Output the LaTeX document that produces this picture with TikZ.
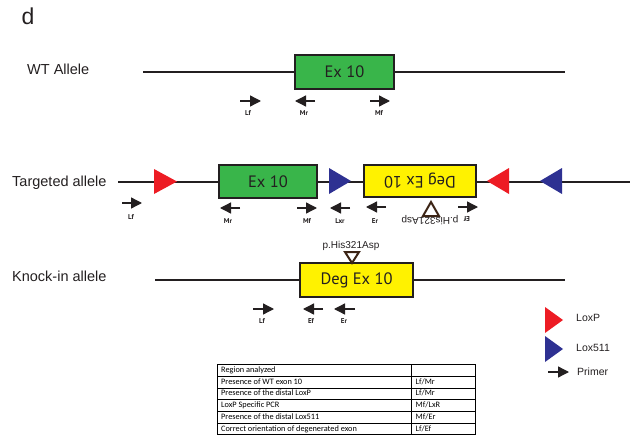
\documentclass[tikz,border=0pt]{standalone}
\usepackage{fontspec}
\setmainfont{Liberation Sans}
\newfontfamily\exonfont{PT Sans}
\newfontfamily\tablafont{Carlito}
\usetikzlibrary{arrows.meta}

\definecolor{exverde}{RGB}{57,181,74}
\definecolor{examarillo}{RGB}{255,242,0}
\definecolor{loxrojo}{RGB}{237,28,36}
\definecolor{loxazul}{RGB}{46,49,146}
\definecolor{trazo}{RGB}{35,31,32}
\definecolor{marron}{RGB}{60,36,21}

\begin{document}
\begin{tikzpicture}[
    x=1pt, y=-1pt,
    alelo/.style={anchor=west, inner sep=0pt, text=trazo, font=\fontsize{14.5}{16}\selectfont},
    linea/.style={line width=2.4pt, draw=trazo},
    exon/.style={draw=trazo, line width=2.4pt, inner sep=0pt, text=trazo, font=\exonfont\fontsize{16.5}{18}\selectfont},
    cebador/.style={line width=1.3pt, draw=trazo, -{Triangle[length=11pt, width=11pt]}},
    etiq/.style={inner sep=0pt, text=trazo, font=\exonfont\bfseries\fontsize{7}{8}\selectfont},
    mutacion/.style={line width=2pt, draw=marron, line join=miter},
    leyenda/.style={anchor=west, inner sep=0pt, text=trazo, font=\fontsize{10.5}{12}\selectfont}
]

% ========================================================
% CUADRÍCULA DE AYUDA (en píxeles de la figura)
% ========================================================
% \draw[help lines, step=50, lightgray] (0,0) grid (635,436);
% ========================================================

\useasboundingbox (0,0) rectangle (635,436);

% 0. Letra del panel
\node[text=trazo, font=\fontsize{23}{26}\selectfont] (panel) at (28,16) {d};

% 1. Alelo WT
\node[alelo] (wtTexto) at (27,69) {WT Allele};
\coordinate (wtIni) at (143,72);
\coordinate (wtFin) at (565,72);
\draw[linea] (wtIni) -- (wtFin);
\node[exon, fill=exverde, minimum width=99, minimum height=34] (wtEx) at (344.5,72) {Ex 10};

% Cebadores del alelo WT
\draw[cebador] (240,101) -- (261,101);
\node[etiq] (wtLf) at (248,113) {Lf};
\draw[cebador] (315,101) -- (295,101);
\node[etiq] (wtMr) at (304,113) {Mr};
\draw[cebador] (370,101) -- (390,101);
\node[etiq] (wtMf) at (379,113) {Mf};

% 2. Alelo dirigido (targeted)
\node[alelo] (tgTexto) at (12,183) {Targeted allele};
\coordinate (tgIni) at (118,182);
\coordinate (tgFin) at (630,182);
\draw[linea] (tgIni) -- (tgFin);

% a) Sitios LoxP / Lox511
\fill[loxrojo] (154,169) -- (177,181.5) -- (154,194) -- cycle;
\fill[loxazul] (329,168) -- (351,181) -- (329,194) -- cycle;
\fill[loxrojo] (509,168) -- (487,181) -- (509,194) -- cycle;
\fill[loxazul] (562,168) -- (540,181) -- (562,194) -- cycle;

% b) Exón WT y exón degenerado invertido
\node[exon, fill=exverde, minimum width=98, minimum height=33] (tgEx) at (268,181.5) {Ex 10};
\node[exon, fill=examarillo, minimum width=112, minimum height=32, rotate=180] (tgDeg) at (420,181) {Deg Ex 10};

% c) Mutación (invertida)
\draw[mutacion] (423,216) -- (431,202) -- (439,216) -- cycle;
\node[inner sep=0pt, text=trazo, font=\fontsize{10}{12}\selectfont, rotate=180] (tgMut) at (430,220) {p.His321Asp};

% Cebadores del alelo dirigido
\draw[cebador] (122,203) -- (142,203);
\node[etiq] (tgLf) at (131,217) {Lf};
\draw[cebador] (240,208) -- (220,208);
\node[etiq] (tgMr) at (228,221) {Mr};
\draw[cebador] (297,208) -- (317,208);
\node[etiq] (tgMf) at (307,221) {Mf};
\draw[cebador] (350,208) -- (330,208);
\node[etiq] (tgLxr) at (340,221) {Lxr};
\draw[cebador] (386,207) -- (366,207);
\node[etiq] (tgEr) at (375,221) {Er};
\draw[cebador] (458,207) -- (478,207);
\node[etiq, rotate=180] (tgEf) at (467,219) {Ef};

% 3. Alelo knock-in
\node[alelo] (kiTexto) at (12,276) {Knock-in allele};
\coordinate (kiIni) at (155,280);
\coordinate (kiFin) at (565,280);
\draw[linea] (kiIni) -- (kiFin);
\node[exon, fill=examarillo, minimum width=113, minimum height=34] (kiDeg) at (356.5,280) {Deg Ex 10};

% Mutación sobre el exón degenerado
\draw[mutacion] (345,252) -- (352,263) -- (359,252) -- cycle;
\node[inner sep=0pt, text=trazo, font=\fontsize{10}{12}\selectfont] (kiMut) at (351,246) {p.His321Asp};

% Cebadores del alelo knock-in
\draw[cebador] (253,309) -- (274,309);
\node[etiq] (kiLf) at (262,321) {Lf};
\draw[cebador] (323,309) -- (303,309);
\node[etiq] (kiEf) at (311,321) {Ef};
\draw[cebador] (355,309) -- (334,309);
\node[etiq] (kiEr) at (344,321) {Er};

% 4. Leyenda
\fill[loxrojo] (545,307) -- (563,320) -- (545,333) -- cycle;
\node[leyenda] (leyLoxP) at (576,318) {LoxP};
\fill[loxazul] (545,336) -- (563,349) -- (545,362) -- cycle;
\node[leyenda] (leyLox) at (576,348) {Lox511};
\draw[cebador] (548,372) -- (569,372);
\node[leyenda] (leyPrimer) at (577,372) {Primer};

% 5. Tabla de PCR
\node[anchor=north west, inner sep=0pt, font=\tablafont\fontsize{8.3}{10}\selectfont] (tabla) at (217,364) {%
  \setlength{\tabcolsep}{4pt}\setlength{\arrayrulewidth}{0.6pt}\renewcommand{\arraystretch}{1.11}%
  \begin{tabular}{|p{186.5pt}|p{56pt}|}
    \hline
    Region analyzed & \\ \hline
    Presence of WT exon 10 & Lf/Mr \\ \hline
    Presence of the distal LoxP & Lf/Mr \\ \hline
    LoxP Specific PCR & Mf/LxR \\ \hline
    Presence of the distal Lox511 & Mf/Er \\ \hline
    Correct orientation of degenerated exon & Lf/Ef \\ \hline
  \end{tabular}};

\end{tikzpicture}
\end{document}
